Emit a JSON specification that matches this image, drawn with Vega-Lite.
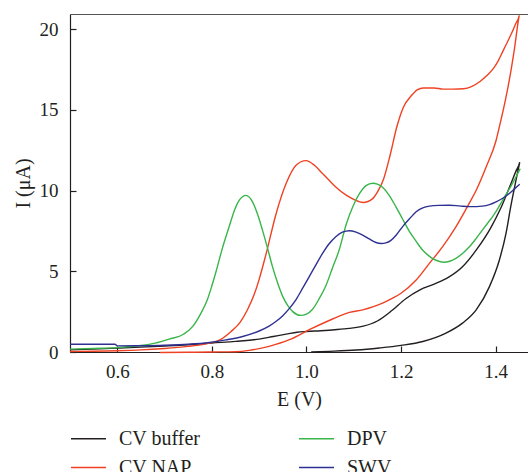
{
"$schema":"https://vega.github.io/schema/vega-lite/v6.json",
"width":458,"height":338,
"autosize":{"type":"none"},
"padding":{"left":70,"top":14,"right":0,"bottom":120},
"background":"white",
"view":{"stroke":null},
"config":{
 "font":"Liberation Serif",
 "axis":{"labelFont":"Liberation Serif","labelFontSize":19,"labelColor":"#231f20","titleFont":"Liberation Serif","titleFontSize":20,"titleFontWeight":"normal","titleColor":"#231f20","domainColor":"#231f20","tickColor":"#231f20","grid":false,"tickSize":-6,"domainWidth":1.2,"tickWidth":1.2},
 "legend":{"labelFont":"Liberation Serif","labelFontSize":20,"labelColor":"#231f20"}
},
"layer":[
 {
  "data":{"values":[
{"s":"CV buffer","i":0,"x":0.5,"y":0.13},{"s":"CV buffer","i":1,"x":0.55,"y":0.18},{"s":"CV buffer","i":2,"x":0.6,"y":0.24},{"s":"CV buffer","i":3,"x":0.65,"y":0.3},{"s":"CV buffer","i":4,"x":0.7,"y":0.37},{"s":"CV buffer","i":5,"x":0.75,"y":0.45},{"s":"CV buffer","i":6,"x":0.8,"y":0.56},{"s":"CV buffer","i":7,"x":0.85,"y":0.66},{"s":"CV buffer","i":8,"x":0.9,"y":0.8},{"s":"CV buffer","i":9,"x":0.93,"y":0.96},{"s":"CV buffer","i":10,"x":0.96,"y":1.12},{"s":"CV buffer","i":11,"x":0.98,"y":1.22},{"s":"CV buffer","i":12,"x":1.0,"y":1.27},{"s":"CV buffer","i":13,"x":1.03,"y":1.32},{"s":"CV buffer","i":14,"x":1.06,"y":1.38},{"s":"CV buffer","i":15,"x":1.09,"y":1.46},{"s":"CV buffer","i":16,"x":1.12,"y":1.6},{"s":"CV buffer","i":17,"x":1.15,"y":1.92},{"s":"CV buffer","i":18,"x":1.18,"y":2.55},{"s":"CV buffer","i":19,"x":1.21,"y":3.3},{"s":"CV buffer","i":20,"x":1.24,"y":3.85},{"s":"CV buffer","i":21,"x":1.27,"y":4.2},{"s":"CV buffer","i":22,"x":1.3,"y":4.62},{"s":"CV buffer","i":23,"x":1.33,"y":5.28},{"s":"CV buffer","i":24,"x":1.36,"y":6.35},{"s":"CV buffer","i":25,"x":1.39,"y":7.7},{"s":"CV buffer","i":26,"x":1.41,"y":8.85},{"s":"CV buffer","i":27,"x":1.43,"y":10.25},{"s":"CV buffer","i":28,"x":1.443,"y":11.2},{"s":"CV buffer","i":29,"x":1.451,"y":11.75},{"s":"CV buffer","i":30,"x":1.445,"y":10.9},{"s":"CV buffer","i":31,"x":1.432,"y":9.0},{"s":"CV buffer","i":32,"x":1.422,"y":7.35},{"s":"CV buffer","i":33,"x":1.408,"y":5.7},{"s":"CV buffer","i":34,"x":1.387,"y":4.05},{"s":"CV buffer","i":35,"x":1.359,"y":2.61},{"s":"CV buffer","i":36,"x":1.33,"y":1.79},{"s":"CV buffer","i":37,"x":1.295,"y":1.17},{"s":"CV buffer","i":38,"x":1.246,"y":0.65},{"s":"CV buffer","i":39,"x":1.2,"y":0.41},{"s":"CV buffer","i":40,"x":1.154,"y":0.25},{"s":"CV buffer","i":41,"x":1.105,"y":0.12},{"s":"CV buffer","i":42,"x":1.048,"y":0.04},{"s":"CV buffer","i":43,"x":1.01,"y":0.0},
{"s":"CV NAP","i":0,"x":0.5,"y":0.03},{"s":"CV NAP","i":1,"x":0.55,"y":0.05},{"s":"CV NAP","i":2,"x":0.6,"y":0.08},{"s":"CV NAP","i":3,"x":0.65,"y":0.13},{"s":"CV NAP","i":4,"x":0.7,"y":0.22},{"s":"CV NAP","i":5,"x":0.75,"y":0.35},{"s":"CV NAP","i":6,"x":0.78,"y":0.46},{"s":"CV NAP","i":7,"x":0.8,"y":0.58},{"s":"CV NAP","i":8,"x":0.82,"y":0.8},{"s":"CV NAP","i":9,"x":0.84,"y":1.25},{"s":"CV NAP","i":10,"x":0.86,"y":1.85},{"s":"CV NAP","i":11,"x":0.875,"y":2.6},{"s":"CV NAP","i":12,"x":0.89,"y":3.6},{"s":"CV NAP","i":13,"x":0.9,"y":4.5},{"s":"CV NAP","i":14,"x":0.914,"y":6.0},{"s":"CV NAP","i":15,"x":0.936,"y":8.58},{"s":"CV NAP","i":16,"x":0.957,"y":10.43},{"s":"CV NAP","i":17,"x":0.978,"y":11.56},{"s":"CV NAP","i":18,"x":0.999,"y":11.85},{"s":"CV NAP","i":19,"x":1.017,"y":11.56},{"s":"CV NAP","i":20,"x":1.034,"y":11.05},{"s":"CV NAP","i":21,"x":1.048,"y":10.63},{"s":"CV NAP","i":22,"x":1.062,"y":10.22},{"s":"CV NAP","i":23,"x":1.084,"y":9.71},{"s":"CV NAP","i":24,"x":1.1,"y":9.45},{"s":"CV NAP","i":25,"x":1.12,"y":9.26},{"s":"CV NAP","i":26,"x":1.14,"y":9.5},{"s":"CV NAP","i":27,"x":1.15,"y":9.9},{"s":"CV NAP","i":28,"x":1.163,"y":10.7},{"s":"CV NAP","i":29,"x":1.177,"y":12.2},{"s":"CV NAP","i":30,"x":1.191,"y":13.93},{"s":"CV NAP","i":31,"x":1.205,"y":15.16},{"s":"CV NAP","i":32,"x":1.222,"y":15.88},{"s":"CV NAP","i":33,"x":1.235,"y":16.25},{"s":"CV NAP","i":34,"x":1.247,"y":16.35},{"s":"CV NAP","i":35,"x":1.27,"y":16.35},{"s":"CV NAP","i":36,"x":1.289,"y":16.28},{"s":"CV NAP","i":37,"x":1.31,"y":16.28},{"s":"CV NAP","i":38,"x":1.332,"y":16.3},{"s":"CV NAP","i":39,"x":1.35,"y":16.45},{"s":"CV NAP","i":40,"x":1.367,"y":16.75},{"s":"CV NAP","i":41,"x":1.381,"y":17.1},{"s":"CV NAP","i":42,"x":1.395,"y":17.55},{"s":"CV NAP","i":43,"x":1.405,"y":18.0},{"s":"CV NAP","i":44,"x":1.416,"y":18.66},{"s":"CV NAP","i":45,"x":1.425,"y":19.2},{"s":"CV NAP","i":46,"x":1.434,"y":19.75},{"s":"CV NAP","i":47,"x":1.442,"y":20.3},{"s":"CV NAP","i":48,"x":1.45,"y":20.85},{"s":"CV NAP","i":49,"x":1.44,"y":18.8},{"s":"CV NAP","i":50,"x":1.43,"y":17.0},{"s":"CV NAP","i":51,"x":1.42,"y":15.5},{"s":"CV NAP","i":52,"x":1.41,"y":14.2},{"s":"CV NAP","i":53,"x":1.401,"y":13.1},{"s":"CV NAP","i":54,"x":1.38,"y":11.46},{"s":"CV NAP","i":55,"x":1.359,"y":10.02},{"s":"CV NAP","i":56,"x":1.344,"y":9.2},{"s":"CV NAP","i":57,"x":1.316,"y":7.75},{"s":"CV NAP","i":58,"x":1.288,"y":6.52},{"s":"CV NAP","i":59,"x":1.26,"y":5.49},{"s":"CV NAP","i":60,"x":1.232,"y":4.46},{"s":"CV NAP","i":61,"x":1.2,"y":3.64},{"s":"CV NAP","i":62,"x":1.18,"y":3.3},{"s":"CV NAP","i":63,"x":1.161,"y":3.02},{"s":"CV NAP","i":64,"x":1.119,"y":2.61},{"s":"CV NAP","i":65,"x":1.091,"y":2.45},{"s":"CV NAP","i":66,"x":1.076,"y":2.3},{"s":"CV NAP","i":67,"x":1.048,"y":1.95},{"s":"CV NAP","i":68,"x":1.006,"y":1.38},{"s":"CV NAP","i":69,"x":0.964,"y":0.76},{"s":"CV NAP","i":70,"x":0.921,"y":0.35},{"s":"CV NAP","i":71,"x":0.879,"y":0.1},{"s":"CV NAP","i":72,"x":0.85,"y":0.02},{"s":"CV NAP","i":73,"x":0.8,"y":0.0},{"s":"CV NAP","i":74,"x":0.75,"y":-0.02},{"s":"CV NAP","i":75,"x":0.69,"y":-0.03},
{"s":"DPV","i":0,"x":0.5,"y":0.18},{"s":"DPV","i":1,"x":0.55,"y":0.22},{"s":"DPV","i":2,"x":0.6,"y":0.27},{"s":"DPV","i":3,"x":0.65,"y":0.4},{"s":"DPV","i":4,"x":0.68,"y":0.55},{"s":"DPV","i":5,"x":0.71,"y":0.8},{"s":"DPV","i":6,"x":0.74,"y":1.1},{"s":"DPV","i":7,"x":0.76,"y":1.6},{"s":"DPV","i":8,"x":0.775,"y":2.3},{"s":"DPV","i":9,"x":0.79,"y":3.2},{"s":"DPV","i":10,"x":0.8,"y":4.1},{"s":"DPV","i":11,"x":0.809,"y":5.0},{"s":"DPV","i":12,"x":0.822,"y":6.4},{"s":"DPV","i":13,"x":0.837,"y":7.8},{"s":"DPV","i":14,"x":0.848,"y":8.8},{"s":"DPV","i":15,"x":0.858,"y":9.4},{"s":"DPV","i":16,"x":0.872,"y":9.7},{"s":"DPV","i":17,"x":0.886,"y":9.3},{"s":"DPV","i":18,"x":0.897,"y":8.5},{"s":"DPV","i":19,"x":0.907,"y":7.55},{"s":"DPV","i":20,"x":0.918,"y":6.4},{"s":"DPV","i":21,"x":0.928,"y":5.3},{"s":"DPV","i":22,"x":0.94,"y":4.2},{"s":"DPV","i":23,"x":0.95,"y":3.43},{"s":"DPV","i":24,"x":0.961,"y":2.85},{"s":"DPV","i":25,"x":0.971,"y":2.5},{"s":"DPV","i":26,"x":0.988,"y":2.27},{"s":"DPV","i":27,"x":1.0,"y":2.35},{"s":"DPV","i":28,"x":1.013,"y":2.65},{"s":"DPV","i":29,"x":1.027,"y":3.3},{"s":"DPV","i":30,"x":1.041,"y":4.1},{"s":"DPV","i":31,"x":1.055,"y":5.2},{"s":"DPV","i":32,"x":1.069,"y":6.3},{"s":"DPV","i":33,"x":1.084,"y":7.9},{"s":"DPV","i":34,"x":1.098,"y":9.0},{"s":"DPV","i":35,"x":1.112,"y":9.8},{"s":"DPV","i":36,"x":1.126,"y":10.3},{"s":"DPV","i":37,"x":1.14,"y":10.45},{"s":"DPV","i":38,"x":1.15,"y":10.4},{"s":"DPV","i":39,"x":1.161,"y":10.2},{"s":"DPV","i":40,"x":1.175,"y":9.7},{"s":"DPV","i":41,"x":1.189,"y":9.0},{"s":"DPV","i":42,"x":1.203,"y":8.25},{"s":"DPV","i":43,"x":1.217,"y":7.5},{"s":"DPV","i":44,"x":1.232,"y":6.85},{"s":"DPV","i":45,"x":1.246,"y":6.3},{"s":"DPV","i":46,"x":1.257,"y":6.0},{"s":"DPV","i":47,"x":1.267,"y":5.78},{"s":"DPV","i":48,"x":1.28,"y":5.62},{"s":"DPV","i":49,"x":1.291,"y":5.56},{"s":"DPV","i":50,"x":1.303,"y":5.62},{"s":"DPV","i":51,"x":1.316,"y":5.8},{"s":"DPV","i":52,"x":1.33,"y":6.1},{"s":"DPV","i":53,"x":1.344,"y":6.5},{"s":"DPV","i":54,"x":1.358,"y":7.0},{"s":"DPV","i":55,"x":1.372,"y":7.55},{"s":"DPV","i":56,"x":1.385,"y":8.05},{"s":"DPV","i":57,"x":1.394,"y":8.4},{"s":"DPV","i":58,"x":1.405,"y":8.9},{"s":"DPV","i":59,"x":1.415,"y":9.4},{"s":"DPV","i":60,"x":1.425,"y":9.9},{"s":"DPV","i":61,"x":1.436,"y":10.45},{"s":"DPV","i":62,"x":1.445,"y":10.95},{"s":"DPV","i":63,"x":1.452,"y":11.35},
{"s":"SWV","i":0,"x":0.5,"y":0.48},{"s":"SWV","i":1,"x":0.55,"y":0.48},{"s":"SWV","i":2,"x":0.595,"y":0.48},{"s":"SWV","i":3,"x":0.6,"y":0.38},{"s":"SWV","i":4,"x":0.65,"y":0.39},{"s":"SWV","i":5,"x":0.7,"y":0.42},{"s":"SWV","i":6,"x":0.75,"y":0.48},{"s":"SWV","i":7,"x":0.795,"y":0.59},{"s":"SWV","i":8,"x":0.83,"y":0.75},{"s":"SWV","i":9,"x":0.865,"y":0.96},{"s":"SWV","i":10,"x":0.9,"y":1.3},{"s":"SWV","i":11,"x":0.921,"y":1.6},{"s":"SWV","i":12,"x":0.936,"y":1.9},{"s":"SWV","i":13,"x":0.95,"y":2.25},{"s":"SWV","i":14,"x":0.964,"y":2.7},{"s":"SWV","i":15,"x":0.978,"y":3.25},{"s":"SWV","i":16,"x":0.992,"y":3.95},{"s":"SWV","i":17,"x":1.006,"y":4.67},{"s":"SWV","i":18,"x":1.02,"y":5.4},{"s":"SWV","i":19,"x":1.034,"y":6.1},{"s":"SWV","i":20,"x":1.048,"y":6.7},{"s":"SWV","i":21,"x":1.062,"y":7.14},{"s":"SWV","i":22,"x":1.076,"y":7.42},{"s":"SWV","i":23,"x":1.091,"y":7.51},{"s":"SWV","i":24,"x":1.105,"y":7.42},{"s":"SWV","i":25,"x":1.119,"y":7.24},{"s":"SWV","i":26,"x":1.133,"y":7.0},{"s":"SWV","i":27,"x":1.147,"y":6.78},{"s":"SWV","i":28,"x":1.158,"y":6.72},{"s":"SWV","i":29,"x":1.168,"y":6.76},{"s":"SWV","i":30,"x":1.178,"y":6.9},{"s":"SWV","i":31,"x":1.19,"y":7.25},{"s":"SWV","i":32,"x":1.203,"y":7.75},{"s":"SWV","i":33,"x":1.218,"y":8.25},{"s":"SWV","i":34,"x":1.232,"y":8.68},{"s":"SWV","i":35,"x":1.246,"y":8.92},{"s":"SWV","i":36,"x":1.26,"y":9.03},{"s":"SWV","i":37,"x":1.28,"y":9.08},{"s":"SWV","i":38,"x":1.302,"y":9.09},{"s":"SWV","i":39,"x":1.323,"y":9.05},{"s":"SWV","i":40,"x":1.344,"y":9.0},{"s":"SWV","i":41,"x":1.36,"y":9.0},{"s":"SWV","i":42,"x":1.372,"y":9.03},{"s":"SWV","i":43,"x":1.387,"y":9.13},{"s":"SWV","i":44,"x":1.401,"y":9.3},{"s":"SWV","i":45,"x":1.415,"y":9.52},{"s":"SWV","i":46,"x":1.429,"y":9.81},{"s":"SWV","i":47,"x":1.44,"y":10.1},{"s":"SWV","i":48,"x":1.451,"y":10.39}
  ]},
  "mark":{"type":"line","strokeWidth":1.4,"interpolate":"monotone"},
  "encoding":{
   "x":{"field":"x","type":"quantitative","scale":{"domain":[0.5,1.4685],"nice":false,"zero":false},
        "axis":{"orient":"bottom","values":[0.6,0.8,1.0,1.2,1.4],"format":".1f","title":"E (V)","labelPadding":16,"titlePadding":8}},
   "y":{"field":"y","type":"quantitative","scale":{"domain":[0,20.93],"nice":false},
        "axis":{"values":[0,5,10,15,20],"title":"I (μA)","labelPadding":18,"titlePadding":6}},
   "color":{"field":"s","type":"nominal",
     "scale":{"domain":["CV buffer","CV NAP","DPV","SWV"],"range":["#231f20","#ef4123","#39b54a","#2e3192"]},
     "legend":{"orient":"none","legendX":0,"legendY":406,"columns":2,"columnPadding":95,"rowPadding":-8,"symbolType":"stroke","symbolSize":1225,"symbolStrokeWidth":1.5,"labelOffset":12,"title":null}},
   "order":{"field":"i","type":"quantitative"}
  }
 },
 {
  "data":{"values":[{"x":0.5},{"x":1.4}]},
  "mark":{"type":"point","opacity":0},
  "encoding":{
   "x":{"field":"x","type":"quantitative","axis":{"orient":"top","labels":false,"ticks":false,"domain":true,"domainColor":"#555555","title":null}}
  }
 }
],
"resolve":{"axis":{"x":"independent"}}
}
